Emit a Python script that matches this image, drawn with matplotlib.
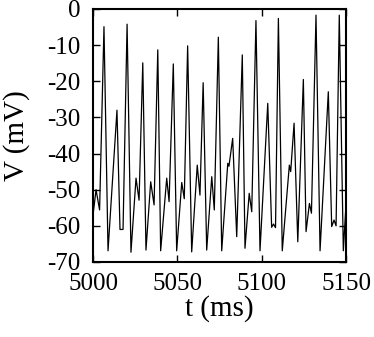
import matplotlib
matplotlib.use("Agg")
import matplotlib.pyplot as plt

# membrane potential trace, key points
t_ms = [5000.0, 5001.8, 5003.9, 5006.5, 5008.9, 5014.2, 5016.0, 5017.8, 5020.2,
        5022.5, 5025.5, 5027.3, 5029.5, 5031.4, 5034.2, 5036.2, 5038.4, 5040.1,
        5043.7, 5045.1, 5047.6, 5049.6, 5052.6, 5054.1, 5056.1, 5058.5, 5061.8,
        5063.4, 5065.3, 5067.4, 5070.4, 5071.9, 5074.3, 5076.3, 5079.9, 5080.6,
        5082.8, 5085.2, 5088.5, 5090.1, 5092.6, 5094.1, 5096.6, 5099.0, 5103.6,
        5105.9, 5107.0, 5108.2, 5109.9, 5112.2, 5116.4, 5117.2, 5119.2, 5121.4,
        5124.7, 5126.3, 5128.3, 5129.5, 5132.2, 5134.6, 5139.5, 5141.5, 5142.9,
        5144.1, 5146.0, 5148.4, 5150.0]
v_mv = [-57.0, -50.0, -55.6, -4.9, -66.9, -28.0, -61.0, -61.0, -4.2,
        -67.3, -46.8, -52.9, -14.9, -66.7, -47.8, -54.2, -11.3, -66.9,
        -46.8, -53.3, -15.2, -66.9, -48.0, -52.5, -10.2, -67.2, -43.2,
        -51.5, -20.4, -66.7, -46.4, -55.6, -7.8, -66.9, -42.7, -43.5,
        -35.8, -63.0, -12.7, -66.2, -51.0, -56.1, -3.2, -66.9, -26.1,
        -60.4, -59.5, -60.5, -2.6, -66.9, -43.2, -45.0, -31.6, -64.4,
        -19.5, -61.6, -53.8, -56.5, -1.7, -66.9, -22.9, -60.2, -58.4,
        -60.0, -1.7, -66.9, -54.0]

x_ticks = [5000, 5050, 5100, 5150]
y_ticks = [-70, -60, -50, -40, -30, -20, -10, 0]

plt.rcParams["font.family"] = ["Liberation Serif", "DejaVu Serif"]
plt.rcParams["axes.unicode_minus"] = False

fig = plt.figure(figsize=(3.74, 3.37), dpi=100)
ax = fig.add_axes([0.2487, 0.2226, 0.6765, 0.7507])

ax.plot(t_ms, v_mv, color="black", lw=0.9)

ax.set_xlim(5000, 5150)
ax.set_ylim(-70, 0)
ax.set_xticks(x_ticks)
ax.set_yticks(y_ticks)
ax.tick_params(direction="in", top=True, right=True, length=5, width=1,
               labelsize=18)
ax.tick_params(axis="x", pad=8)
ax.tick_params(axis="y", pad=9)
for s in ax.spines.values():
    s.set_linewidth(1.5)

ax.set_xlabel("t (ms)", fontsize=21)
ax.set_ylabel("V (mV)", fontsize=21)
ax.xaxis.set_label_coords(0.5, -0.13)
ax.yaxis.set_label_coords(-0.25, 0.5)

fig.savefig("out.png", dpi=100)
